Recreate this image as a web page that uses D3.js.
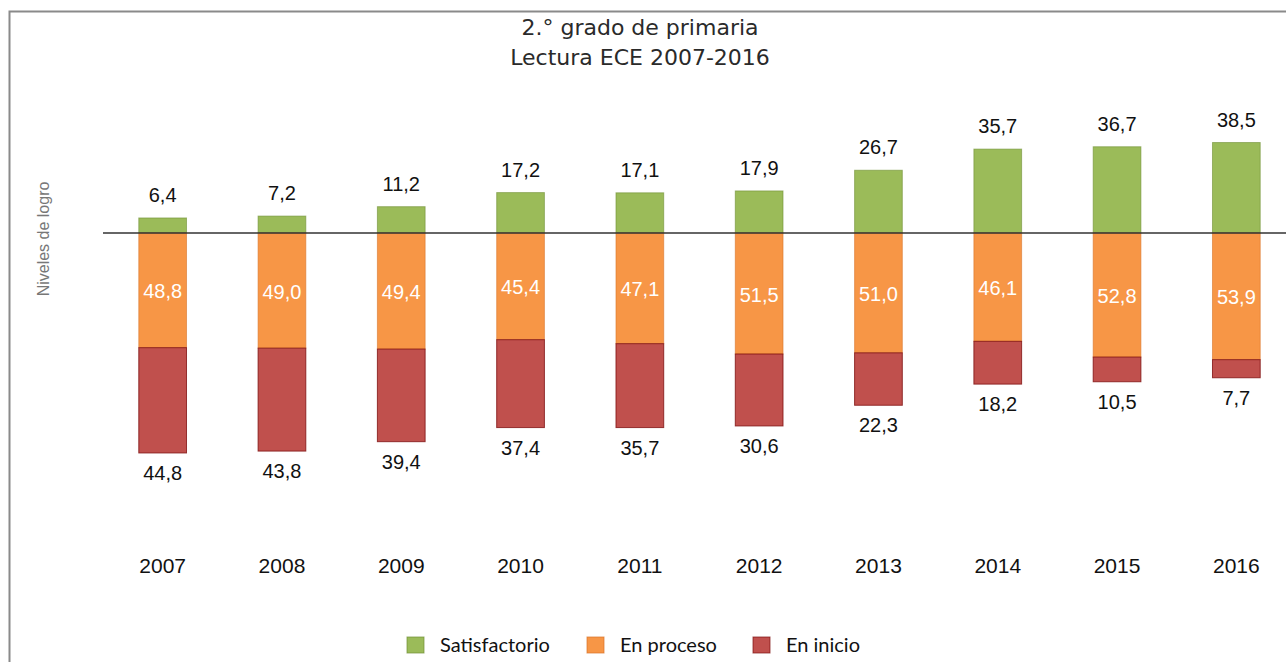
<!DOCTYPE html>
<html>
<head>
<meta charset="utf-8">
<script src="https://cdn.jsdelivr.net/npm/d3@7"></script>
<style>
  body { margin: 0; background: #fff; }
</style>
</head>
<body>
<script>
var years = ["2007","2008","2009","2010","2011","2012","2013","2014","2015","2016"];
var satisfactorio = [6.4, 7.2, 11.2, 17.2, 17.1, 17.9, 26.7, 35.7, 36.7, 38.5];
var enProceso = [48.8, 49.0, 49.4, 45.4, 47.1, 51.5, 51.0, 46.1, 52.8, 53.9];
var enInicio = [44.8, 43.8, 39.4, 37.4, 35.7, 30.6, 22.3, 18.2, 10.5, 7.7];
var legendNames = ["Satisfactorio", "En proceso", "En inicio"];

var width = 1286, height = 662;
var fmt = function(v) { return v.toFixed(1).replace(".", ","); };

var svg = d3.select("body").append("svg")
    .attr("width", width)
    .attr("height", height);

// marco
svg.append("rect")
    .attr("x", 9.5).attr("y", 11.5)
    .attr("width", width + 20).attr("height", height + 20)
    .attr("fill", "none")
    .attr("stroke", "#8a8a8a")
    .attr("stroke-width", 2);

var x = d3.scaleBand()
    .domain(years)
    .range([103, 1296])
    .paddingInner(0.6)
    .paddingOuter(0.3);

// eje en cero, satisfactorio hacia arriba y el resto hacia abajo
var y = d3.scaleLinear()
    .domain([-100, 50])
    .range([468, 115.5]);

var rows = years.map(function(yr, i) {
  return { year: yr, sat: satisfactorio[i], proc: enProceso[i], ini: enInicio[i] };
});

var colors = {
  sat: { fill: "#9bbb59", stroke: "#6f8f33" },
  proc: { fill: "#f79646", stroke: "#d8742a" },
  ini: { fill: "#c0504d", stroke: "#7f1010" }
};

var g = svg.append("g");

// satisfactorio
g.selectAll(".sat").data(rows).enter().append("rect")
    .attr("x", function(d) { return x(d.year); })
    .attr("y", function(d) { return y(d.sat); })
    .attr("width", x.bandwidth())
    .attr("height", function(d) { return y(0) - y(d.sat); })
    .attr("fill", colors.sat.fill)
    .attr("stroke", colors.sat.stroke)
    .attr("stroke-opacity", 0.6);

// en proceso
g.selectAll(".proc").data(rows).enter().append("rect")
    .attr("x", function(d) { return x(d.year); })
    .attr("y", y(0))
    .attr("width", x.bandwidth())
    .attr("height", function(d) { return y(-d.proc) - y(0); })
    .attr("fill", colors.proc.fill)
    .attr("stroke", colors.proc.stroke)
    .attr("stroke-opacity", 0.6);

// en inicio
g.selectAll(".ini").data(rows).enter().append("rect")
    .attr("x", function(d) { return x(d.year); })
    .attr("y", function(d) { return y(-d.proc); })
    .attr("width", x.bandwidth())
    .attr("height", function(d) { return y(-d.proc - d.ini) - y(-d.proc); })
    .attr("fill", colors.ini.fill)
    .attr("stroke", colors.ini.stroke)
    .attr("stroke-opacity", 0.8);

// linea base
svg.append("line")
    .attr("x1", 103).attr("x2", width)
    .attr("y1", y(0)).attr("y2", y(0))
    .attr("stroke", "#333")
    .attr("stroke-width", 1.3);

var labelFont = "Liberation Sans, Arial, sans-serif";

g.selectAll(".lsat").data(rows).enter().append("text")
    .attr("x", function(d) { return x(d.year) + x.bandwidth() / 2; })
    .attr("y", function(d) { return y(d.sat) - 16; })
    .attr("text-anchor", "middle")
    .attr("font-family", labelFont)
    .attr("font-size", 20)
    .attr("fill", "#111")
    .text(function(d) { return fmt(d.sat); });

g.selectAll(".lproc").data(rows).enter().append("text")
    .attr("x", function(d) { return x(d.year) + x.bandwidth() / 2; })
    .attr("y", function(d) { return (y(0) + y(-d.proc)) / 2 + 8; })
    .attr("text-anchor", "middle")
    .attr("font-family", labelFont)
    .attr("font-size", 20)
    .attr("fill", "#fff")
    .text(function(d) { return fmt(d.proc); });

g.selectAll(".lini").data(rows).enter().append("text")
    .attr("x", function(d) { return x(d.year) + x.bandwidth() / 2; })
    .attr("y", function(d) { return y(-d.proc - d.ini) + 27; })
    .attr("text-anchor", "middle")
    .attr("font-family", labelFont)
    .attr("font-size", 20)
    .attr("fill", "#111")
    .text(function(d) { return fmt(d.ini); });

// años
var xAxis = svg.append("g")
    .attr("transform", "translate(0,573)")
    .call(d3.axisBottom(x).tickSize(0).tickPadding(0));
xAxis.select(".domain").remove();
xAxis.selectAll("text")
    .attr("dy", 0)
    .attr("font-family", labelFont)
    .attr("font-size", 21)
    .attr("fill", "#111");

// titulo
var title = svg.append("text")
    .attr("x", 640)
    .attr("text-anchor", "middle")
    .attr("font-family", "DejaVu Sans, sans-serif")
    .attr("font-size", 22)
    .attr("fill", "#2a2a2a");
title.append("tspan").attr("x", 640).attr("y", 35).text("2.° grado de primaria");
title.append("tspan").attr("x", 640).attr("y", 65).text("Lectura ECE 2007-2016");

// eje y
svg.append("text")
    .attr("transform", "translate(49,239) rotate(-90)")
    .attr("text-anchor", "middle")
    .attr("font-family", labelFont)
    .attr("font-size", 16)
    .attr("fill", "#777")
    .text("Niveles de logro");

// leyenda
var legendX = [407, 587, 753];
var legendColors = [colors.sat, colors.proc, colors.ini];
var legend = svg.append("g");
legendNames.forEach(function(name, i) {
  legend.append("rect")
      .attr("x", legendX[i]).attr("y", 637)
      .attr("width", 17).attr("height", 16)
      .attr("fill", legendColors[i].fill)
      .attr("stroke", legendColors[i].stroke)
      .attr("stroke-opacity", 0.7);
  legend.append("text")
      .attr("x", legendX[i] + 33).attr("y", 652)
      .attr("font-family", "Lato, Carlito, sans-serif")
      .attr("font-size", 20)
      .attr("fill", "#111")
      .text(name);
});
</script>
</body>
</html>
